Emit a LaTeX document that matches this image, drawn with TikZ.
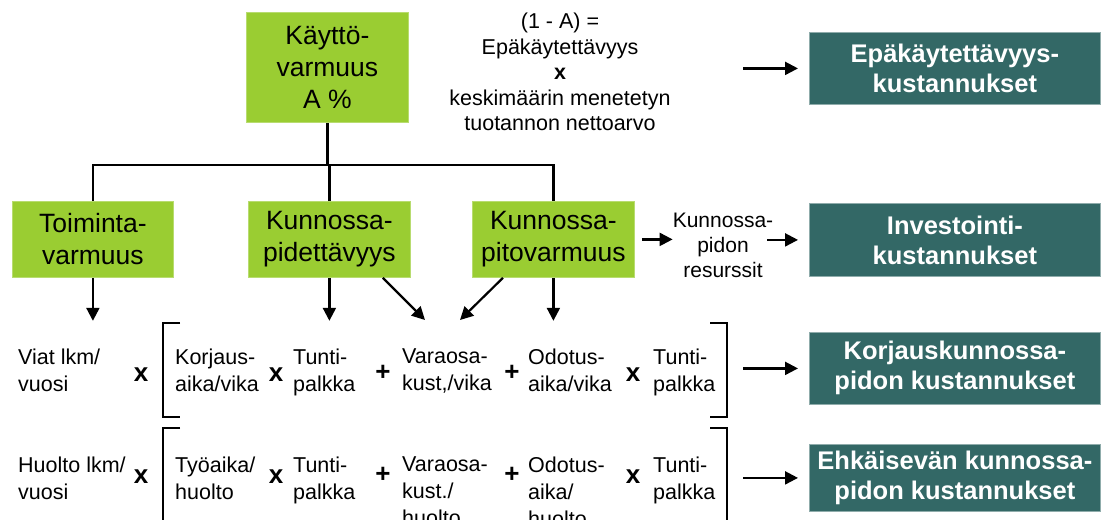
\documentclass[tikz,border=0pt]{standalone}
\usepackage{fontspec}
\setmainfont{Liberation Sans}
\usetikzlibrary{arrows.meta}
\definecolor{leaf}{HTML}{9ACD32}
\definecolor{costteal}{HTML}{336866}
\begin{document}
\begin{tikzpicture}[x=1pt,y=-1pt,
  every node/.style={inner sep=0pt},
  greenbox/.style={fill=leaf, draw=leaf!70!white, line width=0.8pt, align=center,
    font=\fontsize{26.5}{32}\selectfont, anchor=north west, minimum width=162pt, minimum height=76pt},
  costbox/.style={fill=costteal, draw=costteal!55!white, line width=0.8pt, text=white, align=center,
    font=\bfseries\fontsize{25.5}{30}\selectfont, anchor=north west, minimum width=291pt, minimum height=72pt},
  term/.style={align=left, anchor=north west, font=\fontsize{21.5}{27}\selectfont},
  note/.style={align=center, font=\fontsize{21.5}{25.5}\selectfont},
  op/.style={font=\bfseries\fontsize{26}{26}\selectfont},
  link/.style={line width=2.2pt},
  arr/.style={link, -{Triangle[length=13pt,width=13pt]}},
  brk/.style={line width=2.2pt}
]
\useasboundingbox (0,0) rectangle (1102,519);
\clip (0,0) rectangle (1102,519);

% availability tree
\node[greenbox, minimum height=110pt] (kaytto) at (246,12) {Käyttö-\\varmuus\\A \%};
\node[greenbox, minimum width=161pt] (toim) at (12,201) {Toiminta-\\varmuus};
\node[greenbox] (pide) at (248,201) {Kunnossa-\\pidettävyys};
\node[greenbox] (pito) at (472,201) {Kunnossa-\\pitovarmuus};

\coordinate (busy) at (0,165);
\draw[link] (kaytto.south) -- (kaytto.south |- busy);
\draw[link] (toim.north) |- (busy -| pito.north) -- (pito.north);
\draw[link] (pide.north) -- (pide.north |- busy);

% unavailability text and cost boxes
\node[note] (loss) at (560,72) {(1 - A) =\\Epäkäytettävyys\\\textbf{x}\\keskimäärin menetetyn\\tuotannon nettoarvo};
\node[costbox] (epak) at (809,32) {Epäkäytettävyys-\\kustannukset};
\node[costbox, minimum height=73pt] (invest) at (809,203) {Investointi-\\kustannukset};
\node[costbox] (korj) at (809,332) {Korjauskunnossa-\\pidon kustannukset};
\node[costbox, minimum height=67pt] (ehk) at (809,444) {Ehkäisevän kunnossa-\\pidon kustannukset};

\node[note, font=\fontsize{21}{25}\selectfont] (resurs) at (723,245) {Kunnossa-\\pidon\\resurssit};

\draw[arr] ([xshift=-66pt]epak.west) -- ([xshift=-11pt]epak.west);
\draw[arr] ([xshift=7pt]pito.east) -- (resurs.west |- pito.east);
\draw[arr] ([xshift=-42pt]invest.west) -- ([xshift=-11pt]invest.west);
\draw[arr] ([xshift=-66pt]korj.west) -- ([xshift=-11pt]korj.west);
\draw[arr] ([xshift=-66pt]ehk.west) -- ([xshift=-11pt]ehk.west);

% arrows down to the cost formulas
\coordinate (v1) at (425,320);
\coordinate (v2) at (460,320);
\draw[arr] (toim.south) -- ++(0,43);
\draw[arr] (pide.south) -- ++(0,43);
\draw[arr] (pito.south) -- ++(0,43);
\draw[arr] ([xshift=-28pt]pide.south east) -- (v1);
\draw[arr] ([xshift=31pt]pito.south west) -- (v2);

% corrective maintenance formula
\node[term] (r1a) at (18,349) {Viat lkm/\\vuosi};
\node[term] (r1b) at (175,349) {Korjaus-\\aika/vika};
\node[term] (r1c) at (293,349) {Tunti-\\palkka};
\node[term] (r1d) at (402,349) {Varaosa-\\kust,/vika};
\node[term] (r1e) at (528,349) {Odotus-\\aika/vika};
\node[term] (r1f) at (653,349) {Tunti-\\palkka};
\node[op] (r1o1) at (141,375) {x};
\node[op] (r1o2) at (276,375) {x};
\node[op] (r1o3) at (383,373) {+};
\node[op] (r1o4) at (512,373) {+};
\node[op] (r1o5) at (633,375) {x};
\draw[brk] (180,323) -- (163,323) -- (163,417) -- (180,417);
\draw[brk] (710,323) -- (727,323) -- (727,417) -- (710,417);

% preventive maintenance formula
\node[term] (r2a) at (18,457) {Huolto lkm/\\vuosi};
\node[term] (r2b) at (175,457) {Työaika/\\huolto};
\node[term] (r2c) at (293,457) {Tunti-\\palkka};
\node[term] (r2d) at (402,457) {Varaosa-\\kust./\\huolto};
\node[term] (r2e) at (528,457) {Odotus-\\aika/\\huolto};
\node[term] (r2f) at (653,457) {Tunti-\\palkka};
\node[op] (r2o1) at (141,477) {x};
\node[op] (r2o2) at (276,477) {x};
\node[op] (r2o3) at (383,475) {+};
\node[op] (r2o4) at (512,475) {+};
\node[op] (r2o5) at (633,477) {x};
\draw[brk] (180,428) -- (163,428) -- (163,540);
\draw[brk] (710,428) -- (727,428) -- (727,540);
\end{tikzpicture}
\end{document}
